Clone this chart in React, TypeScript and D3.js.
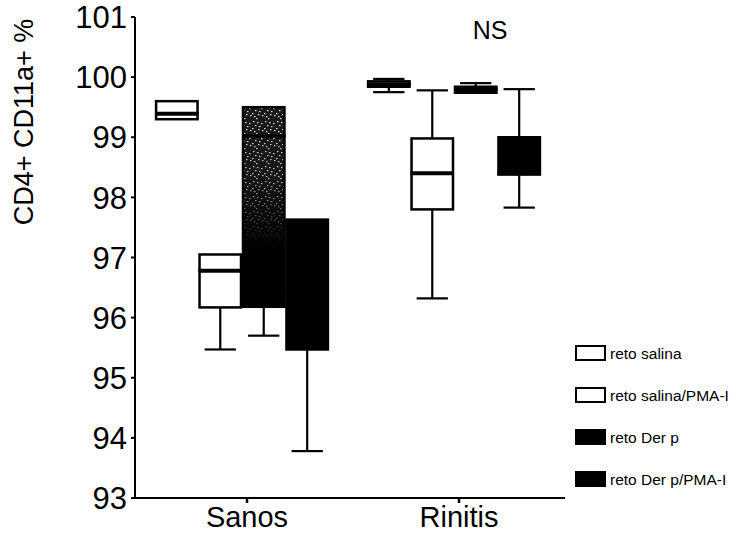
import React from 'react';
import * as d3 from 'd3';

// groups on the x axis and the four challenge series
const groups = ['Sanos', 'Rinitis'];
const series = ['reto salina', 'reto salina/PMA-I', 'reto Der p', 'reto Der p/PMA-I'];
const yTicks = [93, 94, 95, 96, 97, 98, 99, 100, 101];

// box-plot stats, [group][series]
const whiskerLow = [
  [99.3, 95.47, 95.7, 93.78],
  [99.75, 96.32, 99.74, 97.83],
];
const boxLow = [
  [99.3, 96.17, 96.18, 95.47],
  [99.84, 97.8, 99.74, 98.38],
];
const medians = [
  [99.39, 96.78, 99.02, 96.42],
  [99.88, 98.4, 99.8, 98.4],
];
const boxHigh = [
  [99.6, 97.05, 99.5, 97.63],
  [99.93, 98.98, 99.84, 99.0],
];
const whiskerHigh = [
  [99.6, 97.05, 99.5, 97.63],
  [99.97, 99.78, 99.9, 99.8],
];

const seriesFill = ['#fff', '#fff', 'stipple', '#000'];
const legendFill = ['#fff', '#fff', '#000', '#000'];

const W = 753;
const H = 535;
const FONT = '"Liberation Sans", Arial, sans-serif';

// white specks for the stippled fill (pattern cell offsets)
const specks = [
  [1, 1], [5, 2], [3, 5], [7, 6], [0, 8], [6, 9], [2, 11], [9, 3], [10, 10], [4, 13],
];

const App = () => {
  const y = d3.scaleLinear().domain([93, 101]).range([498, 17]);
  const x = d3.scaleBand<string>().domain(groups).range([136, 560]).paddingInner(0.18).paddingOuter(0.09);
  const inner = d3.scaleBand<string>().domain(series).range([0, x.bandwidth()]).padding(0);
  const bw = inner.bandwidth();
  const capW = bw * 0.72;

  return (
    <svg width={W} height={H} style={{ position: 'absolute', left: 0, top: 0, background: '#fff' }}>
      <defs>
        <pattern id="specks" width={12} height={15} patternUnits="userSpaceOnUse">
          <rect width={12} height={15} fill="#1a1a1a" />
          {specks.map(([px, py], i) => (
            <rect key={i} x={px} y={py} width={1.5} height={1.2} fill="#ddd" />
          ))}
        </pattern>
        <linearGradient id="darken" x1="0" y1="0" x2="0" y2="1">
          <stop offset="0" stopColor="#000" stopOpacity={0} />
          <stop offset="0.35" stopColor="#000" stopOpacity={0.15} />
          <stop offset="0.7" stopColor="#000" stopOpacity={1} />
          <stop offset="1" stopColor="#000" stopOpacity={1} />
        </linearGradient>
      </defs>

      {/* y axis */}
      <line x1={135} x2={135} y1={y(101)} y2={y(93)} stroke="#000" strokeWidth={2} />
      {yTicks.map(t => (
        <g key={t}>
          <line x1={131} x2={135} y1={y(t)} y2={y(t)} stroke="#000" strokeWidth={2} />
          <text x={127} y={y(t)} dy="0.36em" textAnchor="end" fontSize={31} fontFamily={FONT}>
            {t}
          </text>
        </g>
      ))}
      <text
        transform={`translate(33,122) rotate(-90)`}
        textAnchor="middle"
        fontSize={27}
        fontFamily={FONT}
      >
        CD4+ CD11a+ %
      </text>

      {/* x axis */}
      <line x1={135} x2={565} y1={498} y2={498} stroke="#000" strokeWidth={2} />
      {groups.map(g => {
        const cx = (x(g) as number) + x.bandwidth() / 2 + 5;
        return (
          <g key={g}>
            <line x1={cx} x2={cx} y1={498} y2={503} stroke="#000" strokeWidth={2.5} />
            <text x={cx} y={527} textAnchor="middle" fontSize={29} fontFamily={FONT}>
              {g}
            </text>
          </g>
        );
      })}

      {/* boxes */}
      {groups.map((g, gi) =>
        series.map((s, si) => {
          const x0 = (x(g) as number) + (inner(s) as number);
          const cx = x0 + bw / 2;
          const top = y(boxHigh[gi][si]);
          const bot = y(boxLow[gi][si]);
          const stipple = seriesFill[si] === 'stipple';
          return (
            <g key={g + s}>
              {whiskerHigh[gi][si] > boxHigh[gi][si] && (
                <g stroke="#000" strokeWidth={2.2}>
                  <line x1={cx} x2={cx} y1={y(whiskerHigh[gi][si])} y2={top} />
                  <line x1={cx - capW / 2} x2={cx + capW / 2} y1={y(whiskerHigh[gi][si])} y2={y(whiskerHigh[gi][si])} />
                </g>
              )}
              {whiskerLow[gi][si] < boxLow[gi][si] && (
                <g stroke="#000" strokeWidth={2.2}>
                  <line x1={cx} x2={cx} y1={bot} y2={y(whiskerLow[gi][si])} />
                  <line x1={cx - capW / 2} x2={cx + capW / 2} y1={y(whiskerLow[gi][si])} y2={y(whiskerLow[gi][si])} />
                </g>
              )}
              <rect
                x={x0 + 1}
                y={top}
                width={bw - 2}
                height={bot - top}
                fill={stipple ? 'url(#specks)' : seriesFill[si]}
                stroke="#000"
                strokeWidth={2.5}
              />
              {stipple && (
                <rect x={x0 + 1} y={top} width={bw - 2} height={bot - top} fill="url(#darken)" />
              )}
              <line
                x1={x0}
                x2={x0 + bw}
                y1={y(medians[gi][si])}
                y2={y(medians[gi][si])}
                stroke="#000"
                strokeWidth={4}
              />
            </g>
          );
        })
      )}

      <text x={490} y={39} textAnchor="middle" fontSize={25} fontFamily={FONT}>
        NS
      </text>

      {/* legend */}
      {series.map((s, i) => {
        const ly = 346 + i * 42;
        return (
          <g key={s}>
            <rect x={576} y={ly} width={29} height={14} fill={legendFill[i]} stroke="#000" strokeWidth={2} />
            <text x={610} y={ly + 13} fontSize={15.5} fontFamily={FONT}>
              {s}
            </text>
          </g>
        );
      })}
    </svg>
  );
};

export default App;
